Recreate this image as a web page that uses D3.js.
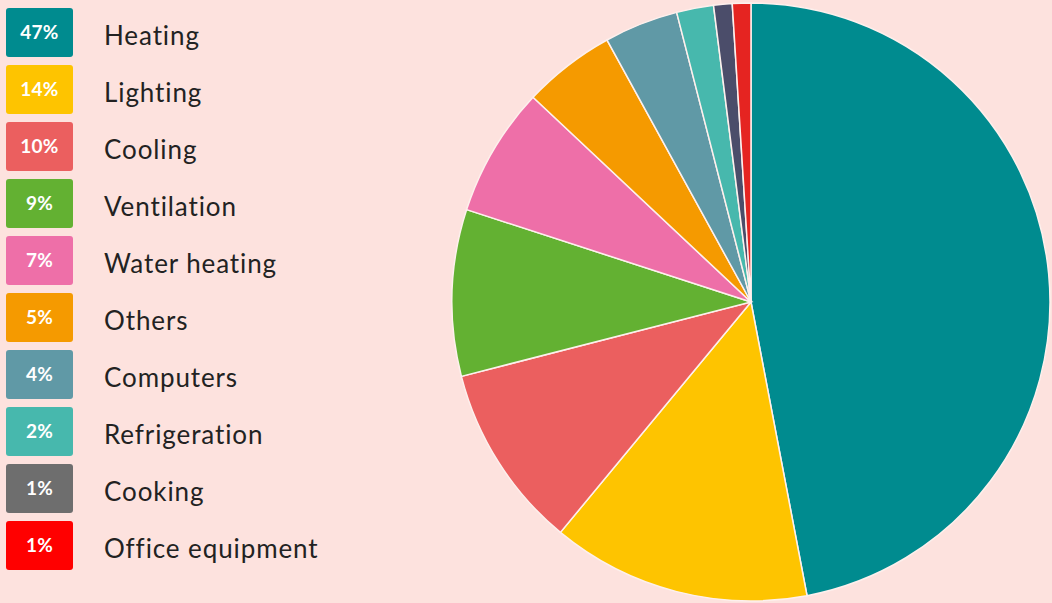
<!DOCTYPE html>
<html>
<head>
<meta charset="utf-8">
<script src="https://cdn.jsdelivr.net/npm/d3@7"></script>
<style>
  html, body { margin: 0; padding: 0; background: #fde2de; }
  svg { display: block; }
  .legend-label { font-family: Lato, "Open Sans", sans-serif; font-size: 26px; fill: #222; letter-spacing: 0.9px; }
  .legend-pct { font-family: Lato, "Open Sans", sans-serif; font-size: 19px; font-weight: 700; fill: #fff; letter-spacing: 0.3px; }
</style>
</head>
<body>
<div id="chart"></div>
<script>
// Energy use by end use (percent)
const categories = ["Heating", "Lighting", "Cooling", "Ventilation", "Water heating",
  "Others", "Computers", "Refrigeration", "Cooking", "Office equipment"];
const values = [47, 14, 10, 9, 7, 5, 4, 2, 1, 1];
const sliceColors = ["#008b8f", "#fec400", "#eb5f5f", "#63b132", "#ee6fa8",
  "#f59a00", "#6099a6", "#47b8ad", "#4b4d6a", "#e52421"];
const legendColors = ["#008b8f", "#fec400", "#eb5f5f", "#63b132", "#ee6fa8",
  "#f59a00", "#6099a6", "#47b8ad", "#6e6e6e", "#ff0000"];

const width = 1052, height = 603;

const svg = d3.select("#chart").append("svg")
  .attr("width", width)
  .attr("height", height);

svg.append("rect")
  .attr("width", width)
  .attr("height", height)
  .attr("fill", "#fde2de");

// Pie
const data = categories.map((c, i) => ({ name: c, value: values[i], i: i }));
const radius = 299;
const pie = d3.pie().value(d => d.value).sort(null);
const arc = d3.arc().innerRadius(0).outerRadius(radius);

const pieG = svg.append("g")
  .attr("transform", "translate(751,302)");

pieG.selectAll("path")
  .data(pie(data))
  .join("path")
  .attr("d", arc)
  .attr("fill", d => sliceColors[d.data.i])
  .attr("stroke", "#fdf0ed")
  .attr("stroke-width", 1.5);

// Legend: 49px boxes on a 57px step
const rowY = d3.scaleBand()
  .domain(categories)
  .range([8, 8 + 57 * categories.length - 8])
  .paddingInner(8 / 57);

const legend = svg.append("g");

const rows = legend.selectAll("g")
  .data(data)
  .join("g")
  .attr("transform", d => `translate(6,${rowY(d.name)})`);

rows.append("rect")
  .attr("width", 67)
  .attr("height", rowY.bandwidth())
  .attr("rx", 3)
  .attr("fill", d => legendColors[d.i]);

rows.append("text")
  .attr("class", "legend-pct")
  .attr("x", 33.5)
  .attr("y", rowY.bandwidth() / 2)
  .attr("dy", "0.36em")
  .attr("text-anchor", "middle")
  .text(d => d.value + "%");

rows.append("text")
  .attr("class", "legend-label")
  .attr("x", 98)
  .attr("y", rowY.bandwidth() / 2 + 3)
  .attr("dy", "0.36em")
  .text(d => d.name);
</script>
</body>
</html>
